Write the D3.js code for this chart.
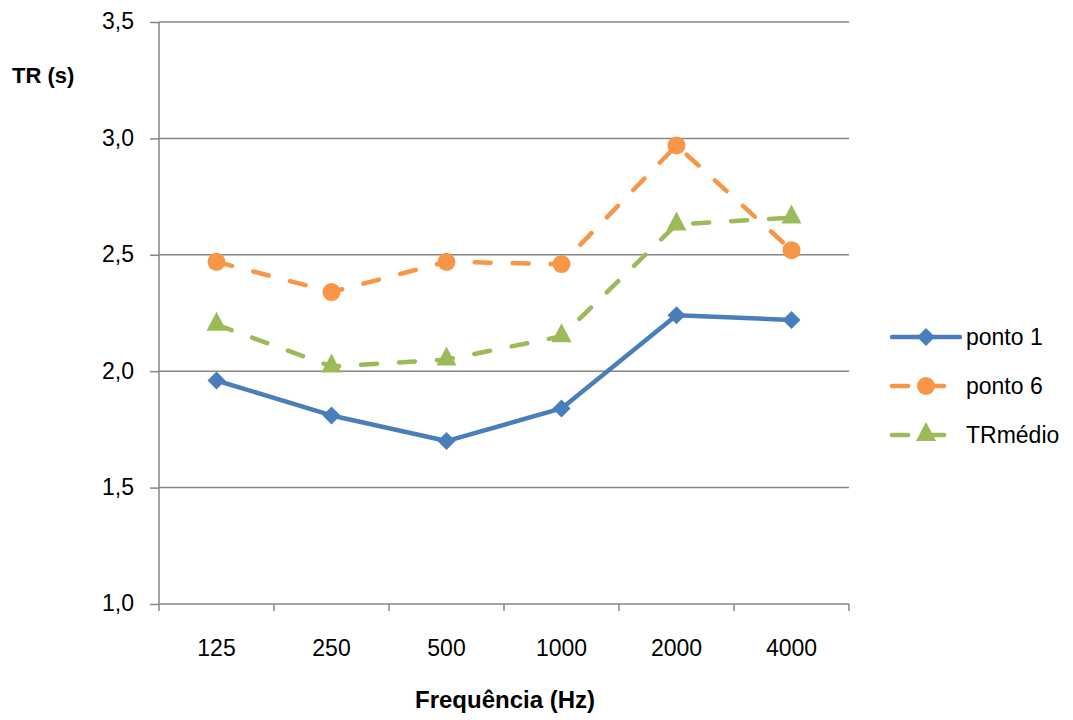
<!DOCTYPE html>
<html>
<head>
<meta charset="utf-8">
<script src="https://cdn.jsdelivr.net/npm/d3@7"></script>
<style>
  html, body { margin: 0; padding: 0; background: #fff; }
  svg { display: block; }
  text { font-family: "Liberation Sans", Arial, sans-serif; fill: #000; }
</style>
</head>
<body>
<svg id="chart" width="1073" height="720"></svg>
<script>
// Reverberation time (s) per octave band
const frequencies = ["125", "250", "500", "1000", "2000", "4000"];
const ponto1 = [1.96, 1.81, 1.70, 1.84, 2.24, 2.22];
const ponto6 = [2.47, 2.34, 2.47, 2.46, 2.97, 2.52];
const trMedio = [2.20, 2.02, 2.05, 2.15, 2.63, 2.66];
const yTicks = [1.0, 1.5, 2.0, 2.5, 3.0, 3.5];

const series = [
  { name: "ponto 1", values: ponto1, color: "#4a7ebb", dash: null, marker: "diamond" },
  { name: "ponto 6", values: ponto6, color: "#f79646", dash: "16,22", marker: "circle" },
  { name: "TRmédio", values: trMedio, color: "#9bbb59", dash: "16,22", marker: "triangle" }
];

const svg = d3.select("#chart");
const plot = { left: 159, right: 849, top: 22, bottom: 604 };
const gridColor = "#868686";
const fontSize = 23;

const x = d3.scaleBand().domain(frequencies).range([plot.left, plot.right]);
const y = d3.scaleLinear().domain([1.0, 3.5]).range([plot.bottom, plot.top]);

// Horizontal gridlines
svg.append("g").selectAll("line").data(yTicks.slice(1)).join("line")
  .attr("x1", plot.left).attr("x2", plot.right)
  .attr("y1", d => y(d)).attr("y2", d => y(d))
  .attr("stroke", gridColor).attr("stroke-width", 1.5);

// Y axis
const yAxis = svg.append("g").attr("transform", `translate(${plot.left},0)`)
  .call(d3.axisLeft(y).tickValues(yTicks).tickSize(9).tickPadding(16)
    .tickFormat(d => d3.format(".1f")(d).replace(".", ",")));
yAxis.select(".domain").attr("stroke", gridColor).attr("stroke-width", 1.5)
  .attr("d", `M0,${plot.top}V${plot.bottom}`);
yAxis.selectAll(".tick line").attr("stroke", gridColor).attr("stroke-width", 1.5);
yAxis.selectAll(".tick text").attr("font-size", fontSize).attr("dy", "0.3em")
  .style("font-family", "'Liberation Sans', Arial, sans-serif").attr("fill", "#000");

// X axis with ticks at band boundaries
const xAxis = svg.append("g").attr("transform", `translate(0,${plot.bottom})`);
xAxis.append("line").attr("x1", plot.left).attr("x2", plot.right)
  .attr("stroke", gridColor).attr("stroke-width", 1.5);
const boundaries = frequencies.map(f => x(f)).concat([plot.right]);
xAxis.selectAll(".bt").data(boundaries).join("line").attr("class", "bt")
  .attr("x1", d => d).attr("x2", d => d).attr("y1", 0).attr("y2", 7)
  .attr("stroke", gridColor).attr("stroke-width", 1.5);
xAxis.selectAll(".lbl").data(frequencies).join("text").attr("class", "lbl")
  .attr("x", d => x(d) + x.bandwidth() / 2).attr("y", 52)
  .attr("text-anchor", "middle").attr("font-size", fontSize).text(d => d);

// Axis titles
svg.append("text").attr("x", 12).attr("y", 83).attr("font-size", 22)
  .attr("font-weight", "bold").text("TR (s)");
svg.append("text").attr("x", 505).attr("y", 708).attr("text-anchor", "middle")
  .attr("font-size", 24).attr("font-weight", "bold").text("Frequência (Hz)");

function drawMarker(g, type, color) {
  if (type === "diamond") {
    g.append("path").attr("d", "M0,-9L9,0L0,9L-9,0Z").attr("fill", color);
  } else if (type === "circle") {
    g.append("circle").attr("r", 9).attr("fill", color);
  } else {
    g.append("path").attr("d", "M0,-13L10,6L-10,6Z").attr("fill", color);
  }
}

const line = d3.line().x((d, i) => x(frequencies[i]) + x.bandwidth() / 2).y(d => y(d));

series.forEach(s => {
  const g = svg.append("g");
  g.append("path").datum(s.values).attr("d", line)
    .attr("fill", "none").attr("stroke", s.color).attr("stroke-width", 4.5)
    .attr("stroke-linecap", "round").attr("stroke-linejoin", "round")
    .attr("stroke-dasharray", s.dash);
  s.values.forEach((v, i) => {
    const m = g.append("g")
      .attr("transform", `translate(${x(frequencies[i]) + x.bandwidth() / 2},${y(v)})`);
    drawMarker(m, s.marker, s.color);
  });
});

// Legend
const legend = svg.append("g");
series.forEach((s, i) => {
  const ly = 337 + i * 49;
  const g = legend.append("g").attr("transform", `translate(0,${ly})`);
  if (s.dash) {
    g.append("line").attr("x1", 892).attr("x2", 908).attr("y1", 0).attr("y2", 0)
      .attr("stroke", s.color).attr("stroke-width", 4.5).attr("stroke-linecap", "round");
    g.append("line").attr("x1", 930).attr("x2", 944).attr("y1", 0).attr("y2", 0)
      .attr("stroke", s.color).attr("stroke-width", 4.5).attr("stroke-linecap", "round");
  } else {
    g.append("line").attr("x1", 892).attr("x2", 960).attr("y1", 0).attr("y2", 0)
      .attr("stroke", s.color).attr("stroke-width", 4.5).attr("stroke-linecap", "round");
  }
  const m = g.append("g").attr("transform", `translate(926,0)`);
  drawMarker(m, s.marker, s.color);
  g.append("text").attr("x", 966).attr("y", 8).attr("font-size", fontSize).text(s.name);
});
</script>
</body>
</html>
